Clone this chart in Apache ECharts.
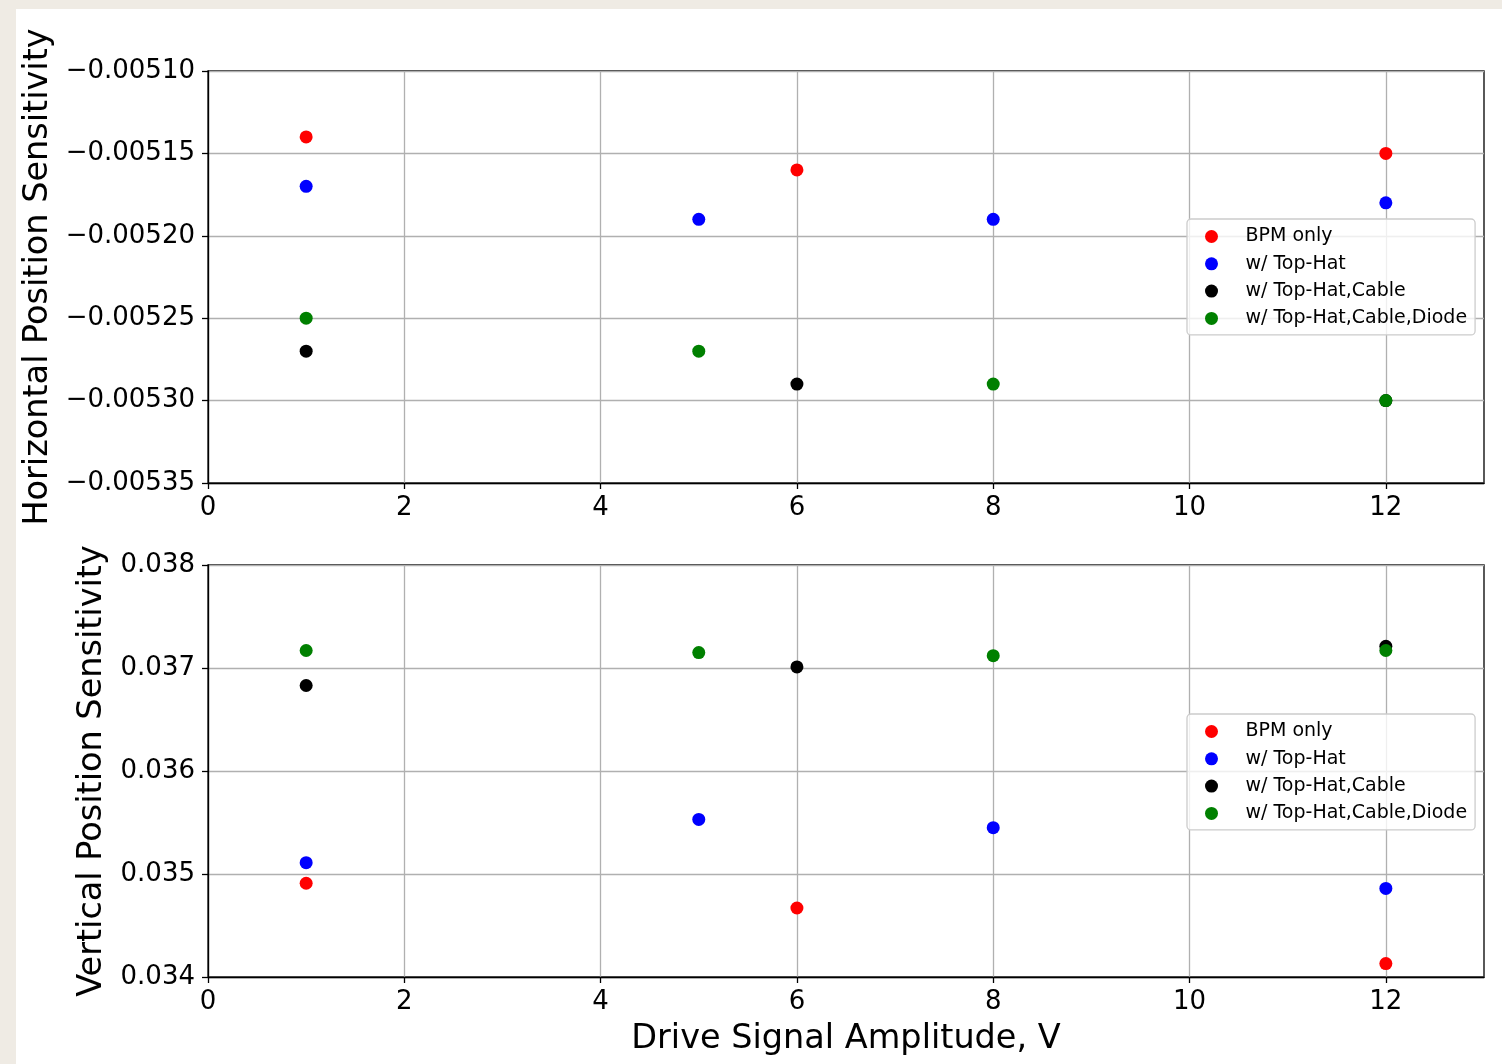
<!DOCTYPE html>
<html>
<head>
<meta charset="utf-8">
<script src="https://cdn.jsdelivr.net/npm/echarts@6/dist/echarts.min.js"></script>
<style>
html,body{margin:0;padding:0;width:1502px;height:1064px;overflow:hidden;background:#efebe4;}
#paper{position:absolute;left:16px;top:9px;right:0;bottom:0;background:#fff;}
#chart{position:absolute;left:0;top:0;width:1502px;height:1064px;}
</style>
</head>
<body>
<div id="paper"></div>
<div id="chart"></div>
<script>
// ---- data ----
const seriesNames = ['BPM only', 'w/ Top-Hat', 'w/ Top-Hat,Cable', 'w/ Top-Hat,Cable,Diode'];
const redX = [1, 6, 12];
const blueX = [1, 5, 8, 12];
const blackX = [1, 6, 12];
const greenX = [1, 5, 8, 12];
// Horizontal position sensitivity
const hRed = [-0.00514, -0.00516, -0.00515];
const hBlue = [-0.00517, -0.00519, -0.00519, -0.00518];
const hBlack = [-0.00527, -0.00529, -0.00530];
const hGreen = [-0.00525, -0.00527, -0.00529, -0.00530];
// Vertical position sensitivity
const vRed = [0.03491, 0.03467, 0.03413];
const vBlue = [0.03511, 0.03553, 0.03545, 0.03486];
const vBlack = [0.03683, 0.03701, 0.03721];
const vGreen = [0.03717, 0.03715, 0.03712, 0.03717];
const xTicks = [0, 2, 4, 6, 8, 10, 12];

const colors = ['#ff0000', '#0000ff', '#000000', '#008000'];
const FONT = 'DejaVu Sans';

function pairs(xs, ys) { return xs.map((x, i) => [x, ys[i]]); }

const gridDefs = [
  {left: 208, top: 71, width: 1276, height: 412},
  {left: 208, top: 565, width: 1276, height: 412}
];

function xAxis(gi, withName) {
  const splitColors = xTicks.map(() => '#b0b0b0');
  splitColors.push('rgba(0,0,0,0)');
  return {
    type: 'value', gridIndex: gi, min: 0, max: 13, interval: 2,
    name: withName ? 'Drive Signal Amplitude, V' : '',
    nameLocation: 'middle', nameGap: 45,
    nameTextStyle: {fontFamily: FONT, fontSize: 33.5, color: '#000'},
    axisLine: {show: true, onZero: false, lineStyle: {color: '#000', width: 1.3}},
    axisTick: {show: true, length: 6, customValues: xTicks, lineStyle: {color: '#000', width: 1.3}},
    axisLabel: {show: true, customValues: xTicks, margin: 12, fontFamily: FONT, fontSize: 26, color: '#000',
      formatter: v => (v <= 12 ? String(v) : '')},
    splitLine: {show: true, lineStyle: {color: splitColors, width: 1.3}}
  };
}

function yAxis(gi, name, min, max, interval, dec, gap) {
  return {
    type: 'value', gridIndex: gi, min: min, max: max, interval: interval,
    name: name, nameLocation: 'middle', nameGap: gap, nameRotate: 90,
    nameTextStyle: {fontFamily: FONT, fontSize: 33.5, color: '#000'},
    axisLine: {show: true, onZero: false, lineStyle: {color: '#000', width: 1.3}},
    axisTick: {show: true, length: 6, lineStyle: {color: '#000', width: 1.3}},
    axisLabel: {margin: 13, fontFamily: FONT, fontSize: 26, color: '#000',
      formatter: v => Number(v).toFixed(dec).replace('-', '\u2212')},
    splitLine: {show: true, lineStyle: {color: '#b0b0b0', width: 1.3}}
  };
}

const hData = [pairs(redX, hRed), pairs(blueX, hBlue), pairs(blackX, hBlack), pairs(greenX, hGreen)];
const vData = [pairs(redX, vRed), pairs(blueX, vBlue), pairs(blackX, vBlack), pairs(greenX, vGreen)];

const series = [];
[hData, vData].forEach((set, gi) => {
  set.forEach((d, i) => {
    series.push({
      type: 'scatter', name: seriesNames[i], xAxisIndex: gi, yAxisIndex: gi,
      data: d, symbol: 'circle', symbolSize: 13,
      itemStyle: {color: colors[i], opacity: 1}, z: 3 + i
    });
  });
});

function legend(top) {
  return {
    orient: 'vertical', left: 1187, top: top, data: seriesNames,
    icon: 'circle', itemWidth: 30, itemHeight: 13, itemGap: 8.3,
    padding: [8, 8, 7, 18],
    backgroundColor: 'rgba(255,255,255,0.8)', borderColor: '#cccccc', borderWidth: 1.3, borderRadius: 4,
    textStyle: {fontFamily: FONT, fontSize: 19, color: '#000', lineHeight: 14, padding: [0, 0, 0, 14]},
    selectedMode: false
  };
}

const option = {
  animation: false,
  backgroundColor: 'transparent',
  textStyle: {fontFamily: FONT},
  grid: gridDefs.map(g => Object.assign({show: true, borderColor: '#000', borderWidth: 1.3, backgroundColor: 'transparent'}, g)),
  xAxis: [xAxis(0, false), xAxis(1, true)],
  yAxis: [
    yAxis(0, 'Horizontal Position Sensitivity', -0.00535, -0.00510, 0.00005, 5, 145),
    yAxis(1, 'Vertical Position Sensitivity', 0.034, 0.038, 0.001, 3, 91)
  ],
  legend: [legend(219), legend(714)],
  series: series
};

const chart = echarts.init(document.getElementById('chart'), null, {renderer: 'canvas'});
chart.setOption(option);
</script>
</body>
</html>
